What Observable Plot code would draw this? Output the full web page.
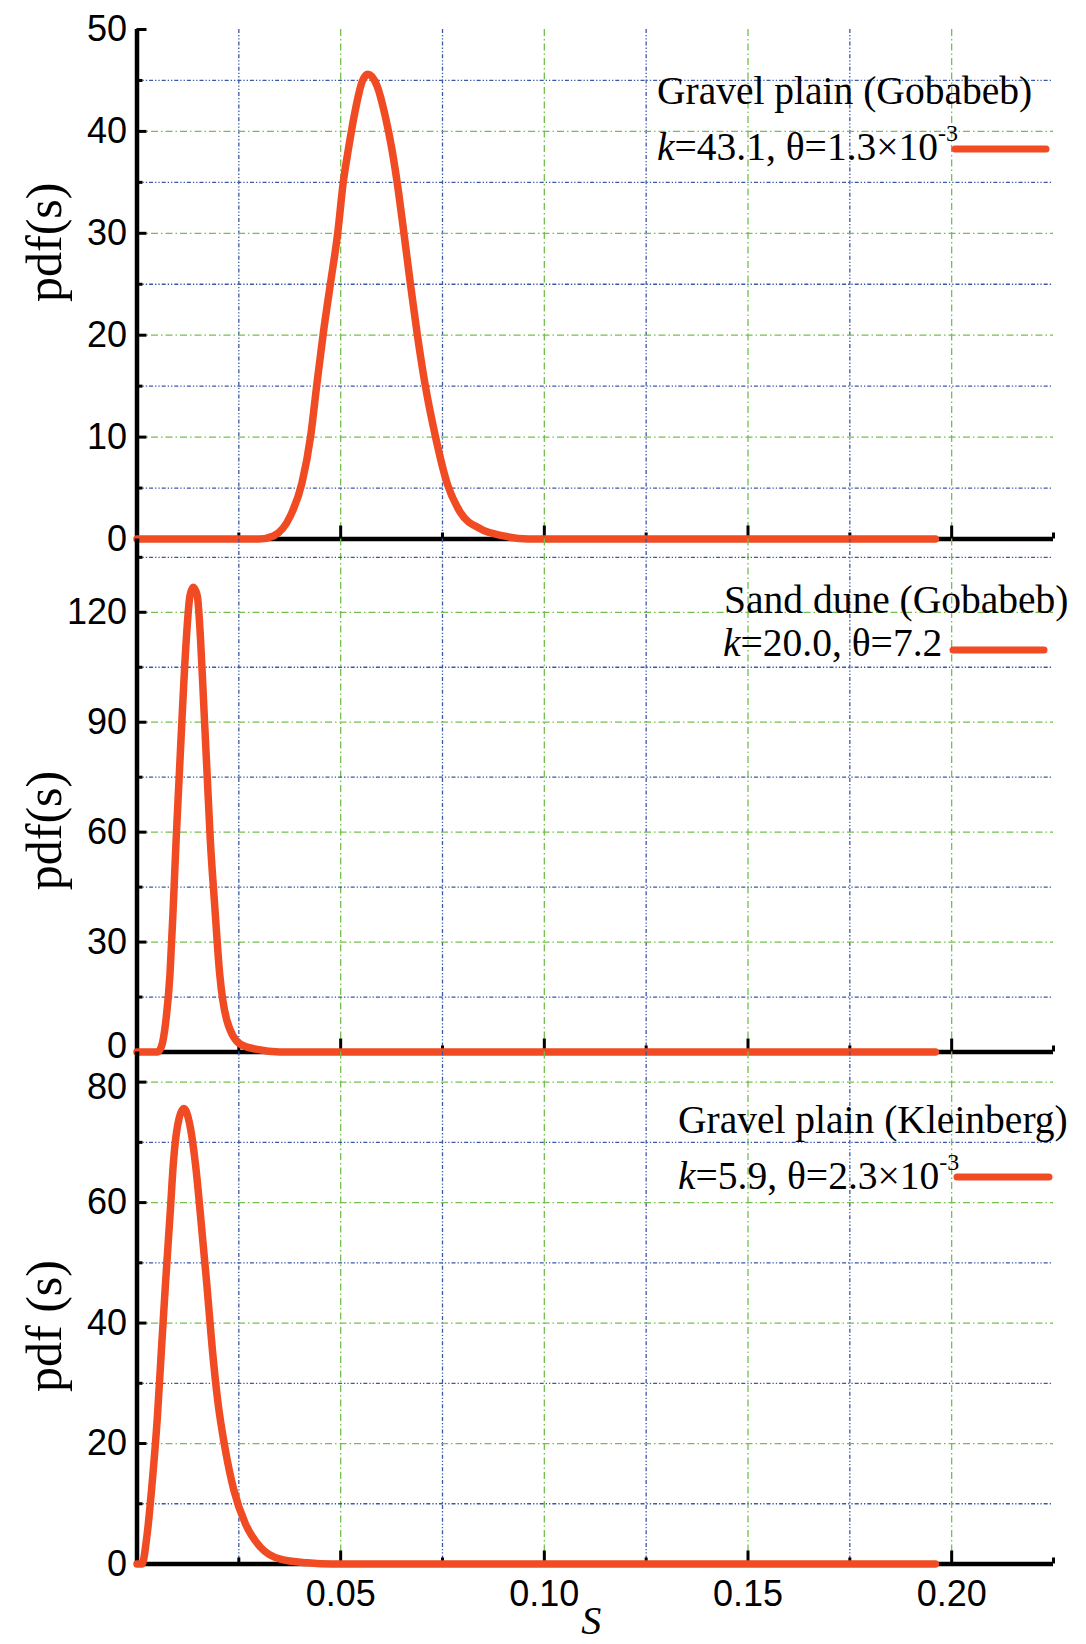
<!DOCTYPE html>
<html><head><meta charset="utf-8">
<script src="https://cdn.jsdelivr.net/npm/d3@7"></script>
<script src="https://cdn.jsdelivr.net/npm/@observablehq/plot@0.6"></script>
<style>
body{margin:0;background:#fff;}
#chart{position:relative;width:1086px;height:1644px;background:#fff;}
#chart svg{position:absolute;left:0;top:0;}
</style></head><body><div id="chart"></div>
<script>
// ---------- data ----------
const gravelGobabebS   = [0, 0.030, 0.0335, 0.0377, 0.0405, 0.0426, 0.0441, 0.0457, 0.0475, 0.0493, 0.0506, 0.0520, 0.0536, 0.0553, 0.0567, 0.0590, 0.0610, 0.0626, 0.0639, 0.0655, 0.0671, 0.0688, 0.0708, 0.0733, 0.0761, 0.0794, 0.0843, 0.090, 0.096, 0.196];
const gravelGobabebPdf = [0, 0, 0.3, 2.3, 5.5, 10.0, 15.0, 20.1, 25.1, 30.1, 34.9, 38.5, 42.1, 44.9, 45.6, 44.4, 41.4, 38.2, 34.9, 30.1, 25.1, 20.1, 15.0, 10.0, 5.5, 2.6, 1.0, 0.3, 0, 0];

const sandDuneS   = [0, 0.0050, 0.0060, 0.0070, 0.0081, 0.0089, 0.0096, 0.0104, 0.0112, 0.0121, 0.0130, 0.0138, 0.0148, 0.0156, 0.0164, 0.0172, 0.0180, 0.0191, 0.0203, 0.0221, 0.0254, 0.0295, 0.035, 0.196];
const sandDunePdf = [0, 0, 1.5, 7.7, 21.3, 39.6, 57.8, 76.1, 94.4, 112.6, 124.5, 126.8, 124.5, 112.6, 94.4, 76.1, 57.8, 39.6, 21.3, 8.5, 2.1, 0.7, 0, 0];

const kleinbergS   = [0, 0.0012, 0.0025, 0.0037, 0.0050, 0.0060, 0.0070, 0.0081, 0.0090, 0.0103, 0.0115, 0.0130, 0.0144, 0.0156, 0.0171, 0.0185, 0.0198, 0.0217, 0.0238, 0.0266, 0.0303, 0.0352, 0.0418, 0.048, 0.196];
const kleinbergPdf = [0, 0, 5.0, 13.3, 24.4, 35.6, 46.6, 57.8, 67.2, 73.9, 75.6, 72.8, 66.1, 57.8, 46.7, 35.6, 27.2, 18.9, 12.2, 6.7, 2.8, 0.8, 0.2, 0, 0];

const xDomain = [0, 0.225];
const xMajorTicks = [0.05, 0.10, 0.15, 0.20];
const xTickLabels = ["0.05", "0.10", "0.15", "0.20"];
const xMinorTicks = [0.025, 0.075, 0.125, 0.175, 0.225];

const y1Domain = [0, 50],  y1Major = [0, 10, 20, 30, 40, 50],  y1Minor = [5, 15, 25, 35, 45];
const y2Domain = [0, 140], y2Major = [0, 30, 60, 90, 120],     y2Minor = [15, 45, 75, 105, 135];
const y3Domain = [0, 85],  y3Major = [0, 20, 40, 60, 80],      y3Minor = [10, 30, 50, 70];

const yLabels = ["pdf(s)", "pdf(s)", "pdf (s)"];
const legendTitles = ["Gravel plain (Gobabeb)", "Sand dune (Gobabeb)", "Gravel plain (Kleinberg)"];
const legendK = ["43.1", "20.0", "5.9"];
const legendTheta = ["1.3×10", "7.2", "2.3×10"];
const legendExp = ["-3", "", "-3"];
const xTitle = "S";

// ---------- styles ----------
const W = 1086, H = 1644, ML = 136.5, MR = W - 1053;
const RED = "#f04b23", GREEN = "#74c04c", BLUE = "#3b58a8";
const SANS = "'Liberation Sans', Arial, Helvetica, sans-serif";
const SERIF = "'Liberation Serif', 'Times New Roman', Times, serif";
const TICK_FONT = 36;

function panel(cfg) {
  const plotW = W - ML - MR, plotH = cfg.bottom - cfg.top;
  const data = cfg.s.map((x, i) => ({s: x, pdf: cfg.pdf[i]}));
  const shift = cfg.labelShift || {};
  const shifted = Object.keys(shift).map(Number);
  const marks = [
    Plot.ruleX(xMinorTicks.filter(d => d < xDomain[1]), {x: d => d, stroke: BLUE, strokeWidth: 1.3, strokeDasharray: "4,2,1.3,2,1.3,2"}),
    Plot.ruleX(xMajorTicks, {x: d => d, stroke: GREEN, strokeWidth: 1.3, strokeDasharray: "7,3,1.5,3"}),
    Plot.ruleY(cfg.yMinor, {y: d => d, stroke: BLUE, strokeWidth: 1.3, strokeDasharray: "4,2,1.3,2,1.3,2"}),
    Plot.ruleY(cfg.yMajor.filter(v => v > 0 && v < cfg.yDomain[1]), {y: d => d, stroke: GREEN, strokeWidth: 1.3, strokeDasharray: "7,3,1.5,3"}),
    Plot.ruleY([0], {y: d => d, stroke: "#000", strokeWidth: 4.5}),
    Plot.ruleX([0], {x: d => d, stroke: "#000", strokeWidth: 4.5}),
    Plot.tickX(xMajorTicks, {x: d => d, insetTop: plotH - 13, stroke: "#000", strokeWidth: 3}),
    Plot.tickX(xMinorTicks, {x: d => d, insetTop: plotH - 6, stroke: "#000", strokeWidth: 3}),
    Plot.tickY(cfg.yMajor, {y: d => d, insetRight: plotW - 10, stroke: "#000", strokeWidth: 3}),
    Plot.tickY(cfg.yMinor, {y: d => d, insetRight: plotW - 6, stroke: "#000", strokeWidth: 3}),
    Plot.axisY(cfg.yMajor.filter(v => !shifted.includes(v)), {tickSize: 0, tickPadding: 10, fontSize: TICK_FONT, fontFamily: SANS, label: null, fill: "#000"}),
    ...shifted.map(v => Plot.axisY([v], {tickSize: 0, tickPadding: 10, dy: shift[v], fontSize: TICK_FONT, fontFamily: SANS, label: null, fill: "#000"})),
    Plot.line(data, {x: "s", y: "pdf", stroke: RED, strokeWidth: 7.5, curve: "monotone-x", strokeLinecap: "round", strokeLinejoin: "round"}),
    Plot.text([cfg.yLabel], {text: d => d, frameAnchor: "left", textAnchor: "middle", lineAnchor: "middle", rotate: -90, dx: -92, dy: cfg.labelDy, fontSize: 50, fontFamily: SERIF, fill: "#000"})
  ];
  if (cfg.showX) {
    marks.push(Plot.axisX(xMajorTicks, {tickSize: 0, tickPadding: 16, fontSize: TICK_FONT, fontFamily: SANS, label: null, fill: "#000",
      tickFormat: d => xTickLabels[xMajorTicks.indexOf(d)]}));
    marks.push(Plot.text([xTitle], {text: d => d, frameAnchor: "bottom", textAnchor: "middle", lineAnchor: "middle", dx: -4, dy: 57, fontSize: 40, fontStyle: "italic", fontFamily: SERIF, fill: "#000"}));
  }
  const svg = Plot.plot({
    width: W, height: H,
    marginLeft: ML, marginRight: MR, marginTop: cfg.top, marginBottom: H - cfg.bottom,
    x: cfg.showX ? {domain: xDomain} : {domain: xDomain, axis: null},
    y: {domain: cfg.yDomain},
    style: {background: "transparent", overflow: "visible", fontFamily: SANS},
    marks
  });
  // legend
  const L = cfg.legend;
  const g = d3.select(svg).append("g").attr("font-family", SERIF).attr("font-size", 39.5)
    .attr("fill", "#000").attr("text-anchor", "start");
  g.append("text").attr("x", L.tx1).attr("y", L.ty1).text(legendTitles[cfg.i]);
  const t = g.append("text").attr("x", L.tx2).attr("y", L.ty2);
  t.append("tspan").attr("font-style", "italic").text("k");
  t.append("tspan").text("=" + legendK[cfg.i] + ", θ=" + legendTheta[cfg.i]);
  if (legendExp[cfg.i]) t.append("tspan").attr("font-size", 24).attr("dy", -19).text(legendExp[cfg.i]);
  g.append("line").attr("x1", L.lx1).attr("x2", L.lx2).attr("y1", L.ly).attr("y2", L.ly)
    .attr("stroke", RED).attr("stroke-width", 7).attr("stroke-linecap", "round");
  return svg;
}

const chart = document.getElementById("chart");
chart.appendChild(panel({i: 0, s: gravelGobabebS, pdf: gravelGobabebPdf, yDomain: y1Domain, yMajor: y1Major, yMinor: y1Minor,
  top: 29, bottom: 538.5, yLabel: yLabels[0], labelDy: -42,
  legend: {tx1: 657, ty1: 104, tx2: 657, ty2: 160, lx1: 955, lx2: 1046, ly: 149}}));
chart.appendChild(panel({i: 1, s: sandDuneS, pdf: sandDunePdf, yDomain: y2Domain, yMajor: y2Major, yMinor: y2Minor,
  top: 538.5, bottom: 1051.5, yLabel: yLabels[1], labelDy: 35, labelShift: {0: -5.5},
  legend: {tx1: 724, ty1: 613, tx2: 723, ty2: 656, lx1: 953, lx2: 1044, ly: 650}}));
chart.appendChild(panel({i: 2, s: kleinbergS, pdf: kleinbergPdf, yDomain: y3Domain, yMajor: y3Major, yMinor: y3Minor,
  top: 1051.5, bottom: 1563.5, yLabel: yLabels[2], labelDy: 18, showX: true, labelShift: {80: 5.5},
  legend: {tx1: 678, ty1: 1133, tx2: 678, ty2: 1189, lx1: 957, lx2: 1049, ly: 1177}}));
</script></body></html>
